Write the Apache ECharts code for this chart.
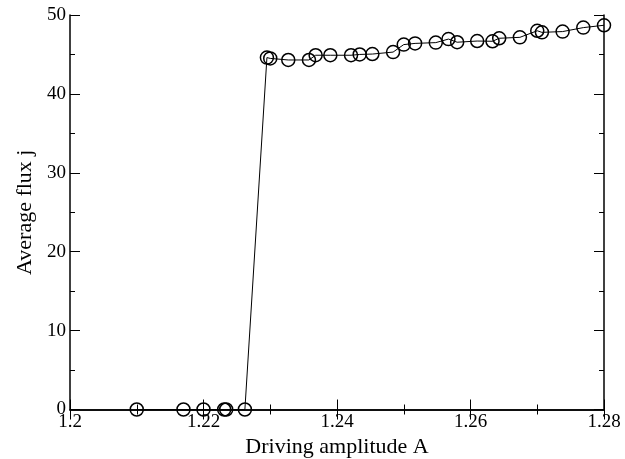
<!DOCTYPE html>
<html>
<head>
<meta charset="utf-8">
<script src="https://cdn.jsdelivr.net/npm/echarts@6/dist/echarts.min.js"></script>
<style>html,body{margin:0;padding:0;background:#fff;}#c{width:625px;height:459px;}</style>
</head>
<body>
<div id="c"></div>
<script>
// Driving amplitude A
const amplitude = [1.2100, 1.2170, 1.2200, 1.2231, 1.2234, 1.2262,
  1.2295, 1.2300, 1.2327, 1.2358, 1.2368, 1.2390, 1.2421, 1.2434, 1.2453, 1.2484,
  1.2500, 1.2517, 1.2548, 1.2567, 1.2580, 1.2610, 1.2633, 1.2643, 1.2674,
  1.2700, 1.2707, 1.2738, 1.2769, 1.2800];
// Average flux j
const flux = [0, 0, 0, 0, 0, 0,
  44.6, 44.5, 44.3, 44.3, 44.9, 44.9, 44.9, 45.0, 45.05, 45.3,
  46.25, 46.4, 46.5, 46.95, 46.55, 46.7, 46.67, 47.05, 47.17,
  48.0, 47.8, 47.9, 48.4, 48.7];
const xTicks = [1.2, 1.22, 1.24, 1.26, 1.28];
const yTicks = [0, 10, 20, 30, 40, 50];

const font = '"Liberation Serif", "DejaVu Serif", serif';
const axisLine = {show: true, lineStyle: {color: '#000', width: 1.5}};
const tick = {show: true, inside: true, length: 10, lineStyle: {color: '#000', width: 1}};
const minor = {show: true, splitNumber: 2, length: 5, lineStyle: {color: '#000', width: 1}};

const chart = echarts.init(document.getElementById('c'), null, {renderer: 'canvas'});
chart.setOption({
  animation: false,
  backgroundColor: '#fff',
  grid: {left: 70, right: 21, top: 15, bottom: 49.5, containLabel: false, outerBoundsMode: 'none'},
  xAxis: [{
    type: 'value', min: 1.2, max: 1.28, interval: 0.02,
    axisLine: axisLine, axisTick: tick, minorTick: minor,
    splitLine: {show: false},
    axisLabel: {color: '#000', fontFamily: font, fontSize: 19, margin: 3,
      formatter: v => { const r = Math.round(v * 100) / 100; return xTicks.includes(r) ? String(r) : ''; }},
    name: 'Driving amplitude A', nameLocation: 'middle', nameGap: 17,
    nameTextStyle: {color: '#000', fontFamily: font, fontSize: 22}
  }, {
    type: 'value', position: 'top', min: 1.2, max: 1.28, interval: 0.02,
    axisLine: axisLine, axisTick: tick, minorTick: minor,
    splitLine: {show: false}, axisLabel: {show: false}
  }],
  yAxis: [{
    type: 'value', min: 0, max: 50, interval: 10,
    axisLine: axisLine, axisTick: tick, minorTick: minor,
    splitLine: {show: false},
    axisLabel: {color: '#000', fontFamily: font, fontSize: 19, margin: 4,
      formatter: v => yTicks.includes(v) ? String(v) : ''},
    name: 'Average flux j', nameLocation: 'middle', nameGap: 26,
    nameTextStyle: {color: '#000', fontFamily: font, fontSize: 22}
  }, {
    type: 'value', position: 'right', min: 0, max: 50, interval: 10,
    axisLine: axisLine, axisTick: tick, minorTick: minor,
    splitLine: {show: false}, axisLabel: {show: false}
  }],
  series: [{
    type: 'line',
    data: amplitude.map((a, i) => [a, flux[i]]),
    symbol: 'circle', symbolSize: 13, showAllSymbol: true,
    lineStyle: {color: '#000', width: 1},
    itemStyle: {color: 'rgba(0,0,0,0)', borderColor: '#000', borderWidth: 1.5},
    clip: false
  }]
});
</script>
</body>
</html>
